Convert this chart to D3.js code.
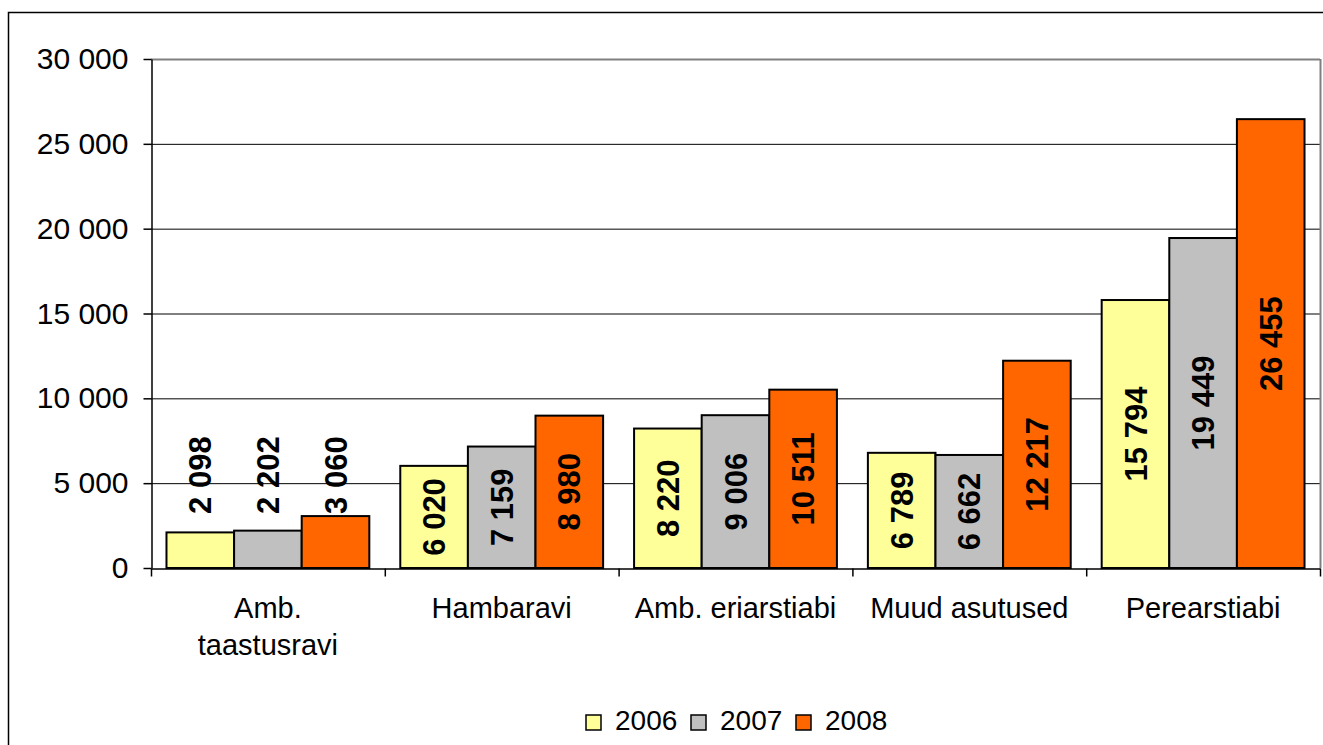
<!DOCTYPE html>
<html><head><meta charset="utf-8">
<script src="https://d3js.org/d3.v7.min.js"></script>
<style>
html,body{margin:0;padding:0;background:#fff;}
svg{display:block;font-family:"Liberation Sans",Arial,sans-serif;}
</style></head>
<body>
<svg id="chart" width="1323" height="745"></svg>
<script>
const categories = [["Amb.","taastusravi"],["Hambaravi"],["Amb. eriarstiabi"],["Muud asutused"],["Perearstiabi"]];
const years = ["2006","2007","2008"];
const v2006 = [2098, 6020, 8220, 6789, 15794];
const v2007 = [2202, 7159, 9006, 6662, 19449];
const v2008 = [3060, 8980, 10511, 12217, 26455];
const yTicks = [0, 5000, 10000, 15000, 20000, 25000, 30000];
const colors = ["#FFFF99", "#C0C0C0", "#FF6600"];
const series = [v2006, v2007, v2008];

const svg = d3.select("#chart");
const fmt = v => d3.format(",")(v).replace(/,/g, " ");

// outer frame
svg.append("rect").attr("x", 8.5).attr("y", 12.5).attr("width", 1340).attr("height", 800)
  .attr("fill", "none").attr("stroke", "#000").attr("stroke-width", 1.5);

const L = 151, R = 1320, T = 59, B = 568;
const x0 = d3.scaleBand().domain(d3.range(categories.length)).range([L, R]).padding(0);
const x1 = d3.scaleBand().domain(years).range([0, x0.bandwidth()]).paddingInner(0).paddingOuter(0.229);
const y = d3.scaleLinear().domain([0, 30000]).range([B, T]);

// gridlines
svg.append("g").selectAll("line").data(yTicks.filter(d => d > 0)).join("line")
  .attr("x1", L).attr("x2", R).attr("y1", d => y(d) + 0.5).attr("y2", d => y(d) + 0.5)
  .attr("stroke", d => d === 30000 ? "#808080" : "#000").attr("stroke-width", d => d === 30000 ? 2 : 1);
// plot area right border
svg.append("line").attr("x1", R + 0.5).attr("x2", R + 0.5).attr("y1", T).attr("y2", B)
  .attr("stroke", "#808080").attr("stroke-width", 2);

// bars
const groups = svg.append("g").selectAll("g").data(categories).join("g")
  .attr("transform", (d, i) => `translate(${x0(i)},0)`);
groups.each(function(c, i) {
  const g = d3.select(this);
  years.forEach((yr, k) => {
    const v = series[k][i];
    g.append("rect").attr("x", x1(yr)).attr("y", y(v)).attr("width", x1.bandwidth()).attr("height", B - y(v))
      .attr("fill", colors[k]).attr("stroke", "#000").attr("stroke-width", 2);
  });
});

// y axis
const yAxis = d3.axisLeft(y).tickValues(yTicks).tickFormat(fmt).tickSize(8).tickSizeOuter(0);
const ga = svg.append("g").attr("transform", `translate(${L + 0.5},0)`).call(yAxis);
ga.select(".domain").attr("stroke", "#000").attr("stroke-width", 1.5);
ga.selectAll(".tick line").attr("stroke", "#000").attr("stroke-width", 1.5);
ga.selectAll(".tick text").attr("font-size", 30).attr("fill", "#000").attr("x", -23)
  .attr("font-family", "Liberation Sans, Arial, sans-serif");

// x axis
const xb = d3.scaleLinear().domain([0, categories.length]).range([L, R]);
const xAxis = d3.axisBottom(xb).tickValues(d3.range(categories.length + 1)).tickFormat("").tickSize(8).tickSizeOuter(0);
const gx = svg.append("g").attr("transform", `translate(0,${B + 0.5})`).call(xAxis);
gx.select(".domain").attr("stroke", "#000").attr("stroke-width", 1.5);
gx.selectAll(".tick line").attr("stroke", "#000").attr("stroke-width", 1.5);

// category labels
svg.append("g").selectAll("text").data(categories).join("text")
  .attr("x", (d, i) => x0(i) + x0.bandwidth() / 2).attr("y", 618)
  .attr("text-anchor", "middle").attr("font-size", 29).attr("fill", "#000")
  .each(function(lines) {
    const t = d3.select(this);
    lines.forEach((ln, j) => t.append("tspan").attr("x", t.attr("x")).attr("dy", j === 0 ? 0 : 37).text(ln));
  });

// data labels (rotated)
const lab = svg.append("g");
categories.forEach((c, i) => {
  years.forEach((yr, k) => {
    const v = series[k][i];
    const cx = x0(i) + x1(yr) + x1.bandwidth() / 2;
    const t = lab.append("text").attr("font-size", 31).attr("font-weight", "bold").attr("fill", "#000")
      .attr("text-anchor", "middle").attr("dy", "0.36em").text(fmt(v));
    const len = t.node().getComputedTextLength();
    const barH = B - y(v);
    let cy = (y(v) + B) / 2;
    if (len > barH - 6) cy = Math.min(cy, y(5000) - 8);
    t.attr("transform", `translate(${cx},${cy}) rotate(-90)`);
  });
});

// legend
const legX = [586, 691, 796];
const leg = svg.append("g");
years.forEach((yr, k) => {
  leg.append("rect").attr("x", legX[k]).attr("y", 715).attr("width", 15).attr("height", 15)
    .attr("fill", colors[k]).attr("stroke", "#000").attr("stroke-width", 1.5);
  leg.append("text").attr("x", legX[k] + 29).attr("y", 730).attr("font-size", 28).attr("fill", "#000").text(yr);
});
</script>
</body></html>
